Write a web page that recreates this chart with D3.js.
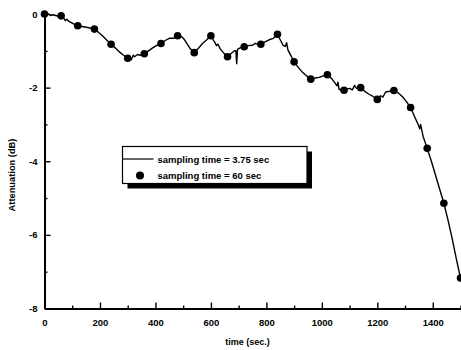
<!DOCTYPE html>
<html>
<head>
<meta charset="utf-8">
<script src="https://cdn.jsdelivr.net/npm/d3@7"></script>
<style>
  body { margin: 0; background: #fff; }
  svg { display: block; font-family: Arial, "Liberation Sans", sans-serif; }
</style>
</head>
<body>
<script>
// sampled every 60 sec (markers)
const coarseTime = [0, 60, 120, 180, 240, 300, 360, 420, 480, 540, 600, 660, 720, 780, 840,
  900, 960, 1020, 1080, 1140, 1200, 1260, 1320, 1380, 1440, 1500];
const coarseAtt = [0, -0.05, -0.32, -0.41, -0.82, -1.20, -1.08, -0.80, -0.59, -1.05, -0.59, -1.16,
  -0.89, -0.82, -0.55, -1.30, -1.77, -1.65, -2.07, -2.00, -2.32, -2.08, -2.54, -3.65, -5.14, -7.17];

const fineTime = [0, 8, 15, 22, 30, 40, 50, 60, 70, 75, 80, 88, 100, 110, 120, 135, 150, 165, 180,
  195, 210, 225, 240, 255, 270, 285, 300, 307, 313, 320, 325, 335, 345, 360, 375, 390, 405, 420,
  435, 450, 465, 480, 495, 505, 515, 525, 540, 555, 570, 585, 600, 610, 615, 620, 625, 635, 645,
  660, 672, 685, 690, 693, 696, 705, 720, 735, 750, 760, 770, 780, 795, 810, 825, 840, 850, 860,
  868, 873, 878, 890, 900, 915, 930, 945, 960, 975, 990, 1005, 1020, 1035, 1045, 1055, 1058, 1062,
  1070, 1080, 1090, 1100, 1110, 1118, 1125, 1140, 1155, 1170, 1185, 1200, 1212, 1220, 1230, 1245,
  1260, 1275, 1290, 1305, 1320, 1335, 1350, 1353, 1356, 1365, 1380, 1395, 1410, 1425, 1440, 1455,
  1470, 1485, 1500];
const fineAtt = [0, -0.02, 0, -0.04, -0.02, -0.04, -0.06, -0.05, -0.12, -0.18, -0.14, -0.2, -0.25,
  -0.29, -0.32, -0.34, -0.36, -0.38, -0.41, -0.5, -0.6, -0.71, -0.82, -0.92, -1.03, -1.12, -1.2,
  -1.17, -1.24, -1.12, -1.16, -1.1, -1.12, -1.08, -1.0, -0.92, -0.85, -0.8, -0.72, -0.66, -0.66,
  -0.59, -0.62, -0.7, -0.82, -0.94, -1.05, -0.93, -0.8, -0.7, -0.59, -0.72, -0.78, -0.86, -0.82,
  -0.96, -1.05, -1.16, -1.08, -1.0, -1.0, -1.35, -0.96, -0.92, -0.89, -0.86, -0.85, -0.8, -0.83,
  -0.82, -0.76, -0.7, -0.66, -0.55, -0.7, -0.85, -0.88, -0.78, -0.98, -1.15, -1.3, -1.45, -1.58,
  -1.68, -1.77, -1.74, -1.72, -1.68, -1.65, -1.75, -1.85, -1.95, -1.85, -2.05, -2.05, -2.07, -2.04,
  -2.02, -2.06, -1.94, -2.02, -2.0, -2.1, -2.18, -2.24, -2.32, -2.22, -2.26, -2.12, -2.1, -2.08,
  -2.14, -2.24, -2.38, -2.54, -2.8, -3.05, -3.12, -3.0, -3.32, -3.65, -4.0, -4.38, -4.76, -5.14,
  -5.6, -6.1, -6.65, -7.17];

const xTicks = [0, 200, 400, 600, 800, 1000, 1200, 1400];
const xMinor = [100, 300, 500, 700, 900, 1100, 1300, 1500];
const yTicks = [0, -2, -4, -6, -8];
const yMinor = [-1, -3, -5, -7];
const legendLabels = ['sampling time = 3.75 sec', 'sampling time = 60 sec'];

const width = 461;
const height = 350;

const x = d3.scaleLinear().domain([0, 1500]).range([44.5, 460.5]);
const y = d3.scaleLinear().domain([0, -8]).range([14, 308.5]);

const svg = d3.select('body')
    .append('svg')
    .attr('width', width)
    .attr('height', height);

// axes
svg.append('g')
    .attr('transform', `translate(0,${y(-8)})`)
    .call(d3.axisBottom(x).tickValues(xTicks).tickSizeInner(-6).tickSizeOuter(0).tickPadding(11)
      .tickFormat(d => String(d)));
svg.append('g')
    .attr('transform', `translate(0,${y(-8)})`)
    .call(d3.axisBottom(x).tickValues(xMinor).tickSizeInner(-3).tickSizeOuter(0).tickFormat(''))
    .select('.domain').remove();

svg.append('g')
    .attr('transform', `translate(${x(0)},0)`)
    .call(d3.axisLeft(y).tickValues(yTicks).tickSizeInner(-6).tickSizeOuter(0).tickPadding(7)
      .tickFormat(d => d === 0 ? '0' : '-' + Math.abs(d)));
svg.append('g')
    .attr('transform', `translate(${x(0)},0)`)
    .call(d3.axisLeft(y).tickValues(yMinor).tickSizeInner(-3).tickSizeOuter(0).tickFormat(''))
    .select('.domain').remove();

svg.selectAll('.domain').attr('stroke', '#000').attr('stroke-width', 2);
svg.selectAll('.tick line').attr('stroke', '#000').attr('stroke-width', 1.4);
svg.selectAll('.tick text')
    .attr('fill', '#000')
    .attr('font-size', 9.5)
    .attr('font-weight', 'bold')
    .attr('font-family', 'Arial, "Liberation Sans", sans-serif');

// axis titles
svg.append('text')
    .attr('x', 247.5)
    .attr('y', 345)
    .attr('text-anchor', 'middle')
    .attr('font-size', 9)
    .attr('font-weight', 'bold')
    .text('time (sec.)');

svg.append('text')
    .attr('transform', 'translate(15,175) rotate(-90)')
    .attr('text-anchor', 'middle')
    .attr('font-size', 9.3)
    .attr('font-weight', 'bold')
    .text('Attenuation (dB)');

// data
const line = d3.line()
    .x((d, i) => x(fineTime[i]))
    .y(d => y(d));

svg.append('path')
    .datum(fineAtt)
    .attr('d', line)
    .attr('fill', 'none')
    .attr('stroke', '#000')
    .attr('stroke-width', 1.4)
    .attr('stroke-linejoin', 'round');

svg.selectAll('circle.pt')
    .data(coarseAtt)
    .enter()
    .append('circle')
    .attr('class', 'pt')
    .attr('cx', (d, i) => x(coarseTime[i]))
    .attr('cy', d => y(d))
    .attr('r', 3.8)
    .attr('fill', '#000');

// legend
const lg = svg.append('g').attr('transform', 'translate(122.5,146.5)');
lg.append('rect')
    .attr('x', 5).attr('y', 5)
    .attr('width', 184.5).attr('height', 37)
    .attr('fill', '#000');
lg.append('rect')
    .attr('width', 184.5).attr('height', 37)
    .attr('fill', '#fff')
    .attr('stroke', '#000')
    .attr('stroke-width', 1.2);
lg.append('line')
    .attr('x1', 0).attr('x2', 31)
    .attr('y1', 12.5).attr('y2', 12.5)
    .attr('stroke', '#000')
    .attr('stroke-width', 1.2);
lg.append('circle')
    .attr('cx', 17.5).attr('cy', 29)
    .attr('r', 4)
    .attr('fill', '#000');
lg.selectAll('text')
    .data(legendLabels)
    .enter()
    .append('text')
    .attr('x', 35)
    .attr('y', (d, i) => 16 + i * 16.5)
    .attr('font-size', 9.5)
    .attr('font-weight', 'bold')
    .text(d => d);
</script>
</body>
</html>
